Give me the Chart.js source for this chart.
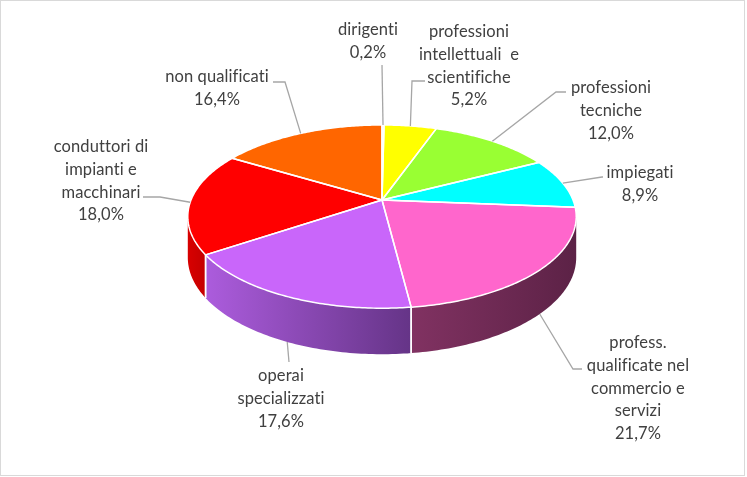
<!DOCTYPE html>
<html><head><meta charset="utf-8">
<script src="https://cdn.jsdelivr.net/npm/chart.js@4.4.0/dist/chart.umd.min.js"></script>
<style>html,body{margin:0;padding:0;background:#fff;}</style>
</head><body>
<canvas id="c" width="747" height="477"></canvas>
<script>
// ---- data ----
const categories = ["dirigenti","professioni intellettuali e scientifiche","professioni tecniche","impiegati","profess. qualificate nel commercio e servizi","operai specializzati","conduttori di impianti e macchinari","non qualificati"];
const values = [0.2, 5.2, 12.0, 8.9, 21.7, 17.6, 18.0, 16.4];
const labelLines = [["dirigenti"],["professioni","intellettuali  e","scientifiche"],["professioni","tecniche"],["impiegati"],["profess.","qualificate nel","commercio e","servizi"],["operai","specializzati"],["conduttori di","impianti e","macchinari"],["non qualificati"]];

// ---- styles ----
const topColors = ["#E8E8E8","#FFFF00","#99FF33","#00FFFF","#FF66CC","#C966FA","#FF0000","#FF6600"];
const sideColors = [["#BBBBBB","#999999"],["#CCCC00","#999900"],["#77CC22","#558F18"],["#00CCCC","#009999"],["#813262","#5C2246"],["#AC5CDD","#653487"],["#D80000","#C40000"],["#CC5200","#993D00"]];

// ---- layout (label text block: center x, first line y; leader: elbow x,y, end x,y) ----
const labelLayout = [
  {x:368, y:30,  elbow:[382,65],  end:[382,65]},
  {x:469, y:32,  elbow:[412,81],  end:[425,81]},
  {x:611, y:88,  elbow:[556,92],  end:[566,92]},
  {x:640, y:173, elbow:[602,177], end:[603,177]},
  {x:638, y:343, elbow:[573,369], end:[582,369]},
  {x:281, y:376, elbow:[289,362], end:[289,362]},
  {x:101, y:147, elbow:[160,197], end:[143,197]},
  {x:217, y:77,  elbow:[285,82],  end:[273,82]}
];
const TILT = 0.464, PERSP = 0.181, DEPTH = 40, LINE_H = 22.7;

function geom(chart){
  const arcs = chart.getDatasetMeta(0).data;
  const a0 = arcs[0];
  const cx = a0.x, cy = a0.y, rx = a0.outerRadius, ry = rx * TILT, k = PERSP;
  const proj = t => { const u = Math.cos(t), v = Math.sin(t); const s = 1/(1 - k*v); return [cx + rx*u*s, cy + ry*v*s, s]; };
  const depth = s => DEPTH * Math.pow(s, 0.7);
  return {arcs, cx, cy, proj, depth, k};
}

const pie3d = {
  id: 'pie3d',
  beforeDraw(chart){
    const ctx = chart.ctx;
    ctx.save();
    ctx.fillStyle = '#fff';
    ctx.fillRect(0,0,chart.width,chart.height);
    ctx.strokeStyle = '#D9D9D9';
    ctx.lineWidth = 1;
    ctx.strokeRect(0.5,0.5,744,475);
    ctx.restore();
  },
  beforeDatasetsDraw(chart){
    const ctx = chart.ctx;
    const {arcs, cx, cy, proj, depth, k} = geom(chart);
    const tR = Math.asin(k), tL = Math.PI - Math.asin(k);
    ctx.save();
    // side walls
    arcs.forEach((arc, i) => {
      const lo = Math.max(arc.startAngle, tR), hi = Math.min(arc.endAngle, tL);
      if (hi <= lo) return;
      const n = Math.max(4, Math.ceil((hi - lo) * 60));
      const top = [], bot = [];
      for (let j = 0; j <= n; j++) {
        const t = lo + (hi - lo) * j / n;
        const p = proj(t);
        top.push([p[0], p[1]]);
        bot.push([p[0], p[1] + depth(p[2])]);
      }
      const xs = top.map(p => p[0]);
      const x0 = Math.min(...xs), x1 = Math.max(...xs);
      const g = ctx.createLinearGradient(x0, 0, x1, 0);
      g.addColorStop(0, sideColors[i][0]);
      g.addColorStop(1, sideColors[i][1]);
      ctx.beginPath();
      top.forEach((p, j) => j ? ctx.lineTo(p[0], p[1]) : ctx.moveTo(p[0], p[1]));
      for (let j = bot.length - 1; j >= 0; j--) ctx.lineTo(bot[j][0], bot[j][1]);
      ctx.closePath();
      ctx.fillStyle = g;
      ctx.fill();
    });
    // white separators on side walls
    ctx.strokeStyle = '#FFFFFF';
    ctx.lineWidth = 1.5;
    arcs.forEach(arc => {
      [arc.startAngle, arc.endAngle].forEach(t => {
        if (t > tR && t < tL) {
          const p = proj(t);
          ctx.beginPath();
          ctx.moveTo(p[0], p[1]);
          ctx.lineTo(p[0], p[1] + depth(p[2]));
          ctx.stroke();
        }
      });
    });
    // top faces
    const facePath = arc => {
      const a = arc.startAngle, b = arc.endAngle;
      const n = Math.max(2, Math.ceil((b - a) * 80));
      ctx.beginPath();
      ctx.moveTo(cx, cy);
      for (let j = 0; j <= n; j++) {
        const p = proj(a + (b - a) * j / n);
        ctx.lineTo(p[0], p[1]);
      }
      ctx.closePath();
    };
    arcs.forEach((arc, i) => { facePath(arc); ctx.fillStyle = topColors[i]; ctx.fill(); });
    ctx.strokeStyle = '#FFFFFF';
    ctx.lineWidth = 1.5;
    ctx.lineJoin = 'round';
    arcs.forEach(arc => { facePath(arc); ctx.stroke(); });
    ctx.restore();
    return false;
  },
  afterDraw(chart){
    const ctx = chart.ctx;
    const {arcs, proj, depth, k} = geom(chart);
    ctx.save();
    arcs.forEach((arc, i) => {
      const t = (arc.startAngle + arc.endAngle) / 2;
      const p = proj(t);
      let sx = p[0], sy = p[1];
      if (Math.sin(t) > k) sy += depth(p[2]);
      const L = labelLayout[i];
      ctx.strokeStyle = '#A6A6A6';
      ctx.lineWidth = 1.3;
      ctx.beginPath();
      ctx.moveTo(sx, sy);
      ctx.lineTo(L.elbow[0], L.elbow[1]);
      ctx.lineTo(L.end[0], L.end[1]);
      ctx.stroke();
      const lines = labelLines[i].concat([values[i].toFixed(1).replace('.', ',') + '%']);
      ctx.fillStyle = '#404040';
      ctx.font = '16.5px Lato, Carlito, "Open Sans", sans-serif';
      if ('letterSpacing' in ctx) ctx.letterSpacing = '0.1px';
      ctx.textAlign = 'center';
      ctx.textBaseline = 'middle';
      lines.forEach((s, j) => ctx.fillText(s, L.x, L.y + j * LINE_H));
    });
    ctx.restore();
  }
};

new Chart(document.getElementById('c'), {
  type: 'pie',
  data: { labels: categories, datasets: [{ data: values, backgroundColor: topColors, borderWidth: 0 }] },
  options: {
    responsive: false,
    devicePixelRatio: 1,
    animation: false,
    layout: { padding: { left: 17, right: 0, top: 9, bottom: 86 } },
    plugins: { legend: { display: false }, tooltip: { enabled: false } }
  },
  plugins: [pie3d]
});
</script>
</body></html>
